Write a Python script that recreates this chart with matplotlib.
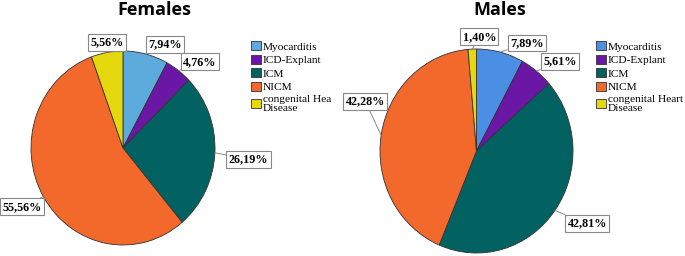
import matplotlib
matplotlib.use("Agg")
import matplotlib.pyplot as plt
import numpy as np

# data
categories = ["Myocarditis", "ICD-Explant", "ICM", "NICM", "congenital Heart Disease"]
females = [7.94, 4.76, 26.19, 55.56, 5.56]
males = [7.89, 5.61, 42.81, 42.28, 1.40]
legend_females = ["Myocarditis", "ICD-Explant", "ICM", "NICM", "congenital Hea\nDisease"]
legend_males = ["Myocarditis", "ICD-Explant", "ICM", "NICM", "congenital Heart\nDisease"]

colors_f = ["#5DAADD", "#6A17A5", "#026262", "#F2692B", "#E5D80F"]
colors_m = ["#4A8FE3", "#6A17A5", "#026262", "#F2692B", "#E5D80F"]

# label layout: distance from centre and angle nudge (deg, clockwise)
label_r_f = [1.16, 1.22, 1.37, 1.25, 1.10]
label_nudge_f = [9, 6, 2, 1, 1]
label_r_m = [1.18, 1.23, 1.35, 1.25, 1.12]
label_nudge_m = [12, 6, -4, 14, 4]


def draw_pie(ax, values, colors, radii, nudges):
    wedges, _ = ax.pie(values, colors=colors, startangle=90, counterclock=False,
                       wedgeprops=dict(edgecolor="#333333", linewidth=0.6))
    ax.set_aspect("auto")
    ax.set_xlim(-1, 1)
    ax.set_ylim(-1, 1)
    total = sum(values)
    start = 0.0
    for v, r, n in zip(values, radii, nudges):
        mid = (start + v / 2) / total * 360
        start += v
        th = np.deg2rad(90 - mid)
        th2 = np.deg2rad(90 - mid - n)
        txt = f"{v:.2f}".replace(".", ",") + "%"
        ax.annotate(txt, xy=(np.cos(th), np.sin(th)), xytext=(r * np.cos(th2), r * np.sin(th2)),
                    ha="center", va="center", fontsize=8.7, fontweight="bold",
                    family="Liberation Serif", annotation_clip=False,
                    bbox=dict(boxstyle="square,pad=0.2", fc="white", ec="#888888", lw=0.8),
                    arrowprops=dict(arrowstyle="-", color="#888888", lw=0.7,
                                    shrinkA=0, shrinkB=0))
    return wedges


fig = plt.figure(figsize=(6.85, 2.56), dpi=100)

ax1 = fig.add_axes([31 / 685, 11 / 256, 184 / 685, 194 / 256])
w1 = draw_pie(ax1, females, colors_f, label_r_f, label_nudge_f)
ax2 = fig.add_axes([380 / 685, 3 / 256, 193 / 685, 204 / 256])
w2 = draw_pie(ax2, males, colors_m, label_r_m, label_nudge_m)

fig.text(154 / 685, 1 - 10 / 256, "Females", ha="center", va="center",
         fontsize=13, fontweight="bold", family="Open Sans")
fig.text(500 / 685, 1 - 10 / 256, "Males", ha="center", va="center",
         fontsize=13, fontweight="bold", family="Open Sans")

leg_kw = dict(loc="upper left", frameon=False, borderpad=0, borderaxespad=0,
              handlelength=0.9, handleheight=0.9, handletextpad=0.15,
              labelspacing=0.25, prop=dict(family="Liberation Serif", size=8.2))
leg1 = fig.legend(w1, legend_females, bbox_to_anchor=(251 / 685, 1 - 41 / 256), **leg_kw)
leg2 = fig.legend(w2, legend_males, bbox_to_anchor=(596 / 685, 1 - 41 / 256), **leg_kw)
for leg in (leg1, leg2):
    for t in leg.get_texts():
        t.set_linespacing(1.0)

fig.savefig("out.png", dpi=100)
